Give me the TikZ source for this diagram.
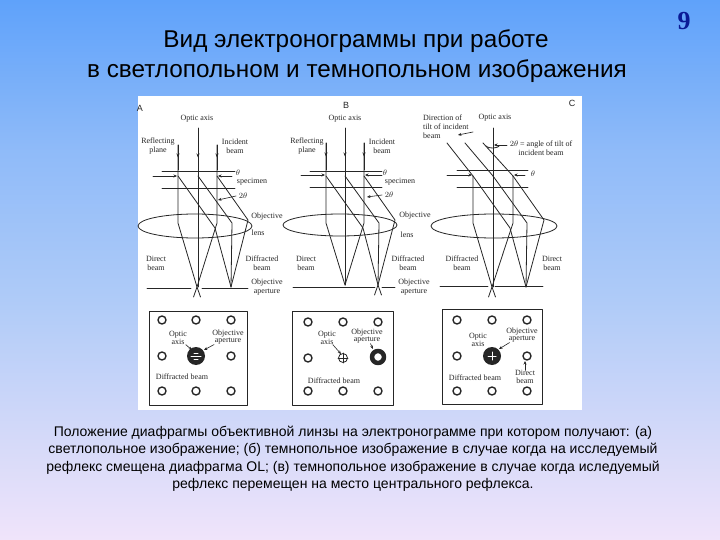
\documentclass[tikz,border=0pt]{standalone}
\usepackage{fontspec}
\setmainfont{Liberation Sans}
\newfontfamily\labelfont{Liberation Serif}
\usetikzlibrary{calc,arrows.meta,decorations.markings}
\definecolor{skytop}{HTML}{5FA2FA}
\definecolor{skymid}{HTML}{AFCBF8}
\definecolor{skylow}{HTML}{F0E4FA}
\definecolor{ink}{HTML}{262626}
\definecolor{numeral}{HTML}{0A1A96}
\newcommand{\Rim}{1.4pt}
\tikzset{
  beam/.style={ink,line width=0.8pt},
  tiny/.style={font=\labelfont\fontsize{8}{9}\selectfont,text=ink,inner sep=0pt,align=center},
  tight/.style={tiny,font=\labelfont\fontsize{8}{7.5}\selectfont},
  panelmark/.style={font=\fontsize{9}{9}\selectfont,text=ink,inner sep=0pt},
  pointer/.style={ink,line width=0.6pt,-{Stealth[length=3.5pt,width=3pt]}},
  headed/.style={beam,postaction={decorate},decoration={markings,mark=at position 0.5 with {\arrow{Stealth[length=4pt,width=3pt]}}}},
  spot/.style={draw=ink,line width=\Rim,fill=white}
}

% one column of rays: start y, left x, right x, direct focus x, diffracted focus x, focus y, middle x
\newcommand{\RayColumn}[7]{%
  % direct beam
  \draw[beam] (#2,#1) -- (#2,223) -- (#4,#6);
  \draw[beam] (#3,#1) -- (#3,223) -- (#4,#6);
  % diffracted beam
  \draw[beam] (#2,176) -- ($(#2,176)+(37,52)$) -- (#5,#6);
  \draw[beam] (#7,176) -- ($(#7,176)+(34,47)$) -- (#5,#6);
  \draw[beam] (#3,176) -- ($(#3,176)+(31,44)$) -- (#5,#6);
}
% the two rays that run on past a focus
\newcommand{\RayTail}[2]{%
  \draw[beam] (#1,#2) -- ++(-3.5,10) (#1,#2) -- ++(3.5,10);
}

\begin{document}
\begin{tikzpicture}[x=1pt,y=-1pt,line join=round,line cap=round]

  % ---- slide background ---------------------------------------------------
  \shade[top color=skytop,bottom color=skymid,middle color=skymid!60!skytop] (0,0) rectangle (720,300);
  \shade[top color=skymid,bottom color=skylow] (0,300) rectangle (720,540);
  \useasboundingbox (0,0) rectangle (720,540);

  % ---- headings -----------------------------------------------------------
  \node[font=\fontsize{24.3}{28}\selectfont,text=black] (title1) at (356,41) {Вид электронограммы при работе};
  \node[font=\fontsize{24.3}{28}\selectfont,text=black] (title2) at (357,71) {в светлопольном и темнопольном изображения};
  \node[font=\fontsize{26}{26}\selectfont\bfseries\labelfont,text=numeral] (pagenum) at (684,21) {9};

  % ---- the scanned figure -------------------------------------------------
  \fill[white] (138,96) rectangle (582,410);
  \node[panelmark] (markA) at (140,108) {A};
  \node[panelmark] (markB) at (346,105) {B};
  \node[panelmark] (markC) at (572,103) {C};

  % ---- column A -----------------------------------------------------------
  \draw[beam] (162,171) -- (235,171) (162,188) -- (235,188);
  \draw[beam] (195,226) ellipse (57 and 12);
  \RayColumn{145}{178}{217}{197}{231}{287}{198}
  \RayTail{197}{287}
  \draw[beam] (198,128) -- (198,287);
  \foreach \x in {178,198,217} { \draw[headed] (\x,145) -- (\x,170); }
  \draw[beam] (147,288) -- (191,288) (202,288) -- (248,288);
  \draw[pointer] (153,176) -- (177,176);
  \draw[pointer] (232,176) -- (218,176);
  \draw[pointer] (236,196) -- (218,200);
  \node[tiny] (axisA) at (197,119) {Optic axis};
  \node[tiny] (planeA) at (158,146) {Reflecting\\plane};
  \node[tiny] (beamA) at (235,146) {Incident\\beam};
  \node[tiny] (thetaA) at (238,173) {$\theta$};
  \node[tiny] (specA) at (252,182) {specimen};
  \node[tiny] (angleA) at (243,196) {$2\theta$};
  \node[tiny] (lensA) at (267,217) {Objective};
  \node[tiny] (lensbA) at (258,233) {lens};
  \node[tiny] (directA) at (156,263) {Direct\\beam};
  \node[tiny] (diffA) at (262,263) {Diffracted\\beam};
  \node[tiny] (apA) at (267,287) {Objective\\aperture};

  % ---- column B -----------------------------------------------------------
  \draw[beam] (310,171) -- (382,171) (310,187) -- (382,187);
  \draw[beam] (340,225) ellipse (57 and 11);
  \RayColumn{143}{326}{364}{345}{378}{285}{345}
  \RayTail{378}{285}
  \draw[beam] (345,128) -- (345,285);
  \foreach \x in {326,345,364} { \draw[headed] (\x,143) -- (\x,170); }
  \draw[beam] (293,287) -- (375,287) (382,287) -- (395,287);
  \draw[pointer] (301,175) -- (325,175);
  \draw[pointer] (382,175) -- (365,175);
  \draw[pointer] (382,195) -- (367,197);
  \node[tiny] (axisB) at (345,119) {Optic axis};
  \node[tiny] (planeB) at (307,146) {Reflecting\\plane};
  \node[tiny] (beamB) at (382,146) {Incident\\beam};
  \node[tiny] (thetaB) at (385,173) {$\theta$};
  \node[tiny] (specB) at (400,182) {specimen};
  \node[tiny] (angleB) at (389,195) {$2\theta$};
  \node[tiny] (lensB) at (415,216) {Objective};
  \node[tiny] (lensbB) at (407,235) {lens};
  \node[tiny] (directB) at (306,263) {Direct\\beam};
  \node[tiny] (diffB) at (408,263) {Diffracted\\beam};
  \node[tiny] (apB) at (414,287) {Objective\\aperture};

  % ---- column C -----------------------------------------------------------
  \draw[beam] (457,170) -- (528,170) (457,187) -- (528,187);
  \draw[beam] (494,226) ellipse (63 and 12);
  \RayColumn{176}{473}{513}{492}{526}{287}{493}
  \RayTail{492}{287}
  \draw[beam] (447,143) -- (473,176) (465,143) -- (493,176) (483,143) -- (513,176);
  \draw[beam] (493,128) -- (493,287);
  \draw[beam] (440,286) -- (488,286) (495,286) -- (543,286);
  \draw[beam] (486,146) arc (160:20:7 and 3);
  \draw[pointer] (447,175) -- (472,175);
  \draw[pointer] (525,175) -- (514,175);
  \draw[pointer] (507,145) -- (494,145);
  \draw[pointer] (473,132) -- (458,135);
  \node[tiny,align=left,anchor=west] (tiltC) at (423,127) {Direction of\\tilt of incident\\beam};
  \node[tiny] (axisC) at (495,118) {Optic axis};
  \node[tiny] (angleC) at (541,148) {$2\theta$ = angle of tilt of\\incident beam};
  \node[tiny] (thetaC) at (533,174) {$\theta$};
  \node[tiny] (diffC) at (462,263) {Diffracted\\beam};
  \node[tiny] (directC) at (552,263) {Direct\\beam};

  % ---- diffraction patterns, three by three minus the lit ones -------------
  \draw[ink,line width=0.8pt] (149,311) rectangle (247,405);
  \draw[ink,line width=0.8pt] (292,311) rectangle (393,405);
  \draw[ink,line width=0.8pt] (442,309) rectangle (542,404);
  \foreach \x/\y in {162/320,196/320,231/320,162/356,231/356,162/391,196/391,231/391,
                     308/322,343/322,378/322,308/358,308/391,343/391,378/391,
                     457/320,492/320,527/320,457/356,527/356,457/391,492/391,527/391} {
    \draw[spot] (\x,\y) circle (4);
  }
  % Apertures in place.
  \fill[ink] (196,356) circle (9);
  \draw[white,line width=1pt] (191,356) -- (201,356) (194,353) -- (198,353) (194,359) -- (198,359);
  \draw[spot,line width=0.8pt] (343,358) circle (4.5);
  \draw[ink,line width=0.6pt] (338,358) -- (348,358) (343,353) -- (343,363);
  \draw[ink,line width=4.5pt] (378,357) circle (6);
  \fill[ink] (492,356) circle (9);
  \draw[white,line width=1pt] (488,356) -- (496,356) (492,352) -- (492,360);

  \node[tight] (axisPa) at (178,338) {Optic\\axis};
  \node[tight] (openPa) at (228,337) {Objective\\aperture};
  \node[tight] (diffPa) at (182,377) {Diffracted beam};
  \draw[pointer] (axisPa) -- (192,350);
  \draw[pointer] (openPa) -- (204,350);

  \node[tight] (axisPb) at (327,338) {Optic\\axis};
  \node[tight] (openPb) at (367,336) {Objective\\aperture};
  \node[tight] (diffPb) at (334,381) {Diffracted beam};
  \draw[pointer] (axisPb) -- (341,354);
  \draw[pointer] (openPb) -- (373,349);

  \node[tight] (axisPc) at (478,340) {Optic\\axis};
  \node[tight] (openPc) at (522,335) {Objective\\aperture};
  \node[tight] (diffPc) at (475,378) {Diffracted beam};
  \node[tight] (directPc) at (525,377) {Direct\\beam};
  \draw[pointer] (openPc) -- (499,349);
  \draw[pointer] (directPc) -- (525,361);

  % ---- caption -------------------------------------------------------------
  \node[font=\fontsize{14}{17.5}\selectfont,text=black,align=center,inner sep=0pt] (caption) at (353,459)
    {Положение диафрагмы объективной линзы на электронограмме при котором получают: (а)\\
     светлопольное изображение; (б) темнопольное изображение в случае когда на исследуемый\\
     рефлекс смещена диафрагма OL; (в) темнопольное изображение в случае когда иследуемый\\
     рефлекс перемещен на место центрального рефлекса.};

\end{tikzpicture}
\end{document}
